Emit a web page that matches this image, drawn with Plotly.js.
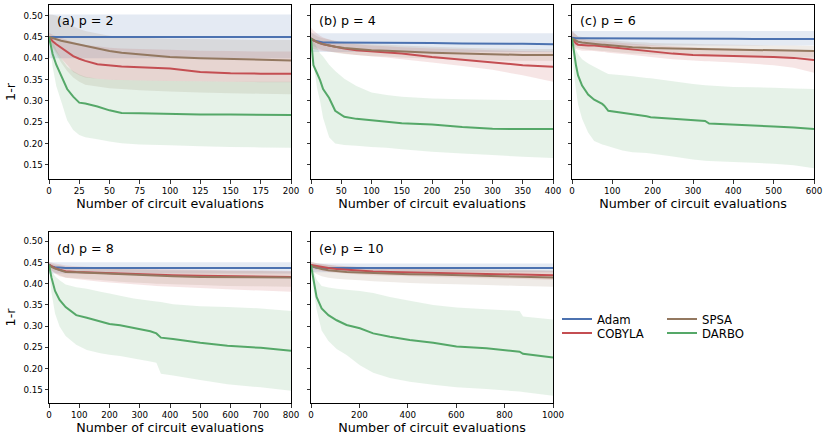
<!DOCTYPE html>
<html>
<head>
<meta charset="utf-8">
<script src="https://cdn.plot.ly/plotly-3.0.1.min.js"></script>
<style>html,body{margin:0;padding:0;background:#fff;}#chart{width:830px;height:442px;}</style>
</head>
<body>
<div id="chart"></div>
<script>
// ---------- data ----------
const seriesNames = ['Adam', 'COBYLA', 'SPSA', 'DARBO'];
const panelLabels = ['(a) p = 2', '(b) p = 4', '(c) p = 6', '(d) p = 8', '(e) p = 10'];
const xMax = [200, 400, 600, 800, 1000];
const xDtick = [25, 50, 100, 100, 200];

// (a) p = 2
const xA = [0,3,6,10,15,20,25,30,40,50,60,75,100,125,150,175,200];
const adamA   = [0.450,0.450,0.450,0.450,0.450,0.450,0.450,0.450,0.450,0.450,0.450,0.450,0.450,0.450,0.450,0.450,0.450];
const adamHiA = [0.503,0.503,0.503,0.503,0.503,0.503,0.503,0.503,0.503,0.503,0.503,0.503,0.503,0.503,0.503,0.503,0.503];
const adamLoA = [0.400,0.400,0.400,0.400,0.400,0.400,0.400,0.400,0.400,0.400,0.400,0.400,0.400,0.400,0.400,0.400,0.400];
const cobA    = [0.450,0.440,0.433,0.425,0.414,0.405,0.399,0.394,0.386,0.383,0.381,0.379,0.376,0.368,0.365,0.364,0.364];
const cobHiA  = [0.460,0.455,0.452,0.448,0.443,0.438,0.434,0.431,0.428,0.425,0.423,0.422,0.420,0.418,0.417,0.416,0.416];
const cobLoA  = [0.440,0.428,0.415,0.400,0.385,0.368,0.360,0.355,0.352,0.350,0.349,0.348,0.347,0.346,0.345,0.344,0.344];
const spsaA   = [0.450,0.447,0.444,0.441,0.438,0.435,0.432,0.428,0.423,0.417,0.413,0.409,0.403,0.400,0.398,0.396,0.395];
const spsaHiA = [0.503,0.502,0.500,0.493,0.483,0.475,0.469,0.464,0.458,0.453,0.450,0.448,0.446,0.445,0.444,0.443,0.443];
const spsaLoA = [0.438,0.425,0.410,0.390,0.370,0.355,0.345,0.338,0.334,0.330,0.328,0.325,0.322,0.320,0.318,0.317,0.316];
const darA    = [0.450,0.410,0.385,0.360,0.328,0.310,0.296,0.294,0.287,0.278,0.272,0.271,0.269,0.268,0.268,0.267,0.267];
const darHiA  = [0.450,0.440,0.420,0.400,0.380,0.370,0.362,0.357,0.352,0.350,0.349,0.348,0.347,0.346,0.345,0.345,0.345];
const darLoA  = [0.450,0.380,0.335,0.300,0.255,0.232,0.220,0.215,0.210,0.205,0.201,0.198,0.196,0.194,0.192,0.191,0.190];

// (b) p = 4
const xB = [0,4,10,15,20,30,40,55,75,100,125,150,200,250,300,350,400];
const adamB   = [0.446,0.442,0.440,0.438,0.437,0.437,0.437,0.437,0.437,0.437,0.437,0.436,0.436,0.435,0.435,0.434,0.433];
const adamHiB = [0.459,0.459,0.459,0.459,0.459,0.459,0.459,0.459,0.459,0.459,0.459,0.459,0.459,0.459,0.459,0.459,0.459];
const adamLoB = [0.415,0.415,0.415,0.415,0.415,0.415,0.415,0.415,0.415,0.415,0.415,0.415,0.415,0.415,0.415,0.415,0.415];
const cobB    = [0.447,0.442,0.438,0.435,0.433,0.430,0.427,0.423,0.419,0.416,0.414,0.411,0.403,0.397,0.390,0.384,0.380];
const cobHiB  = [0.472,0.465,0.458,0.453,0.449,0.444,0.440,0.436,0.433,0.430,0.428,0.426,0.423,0.421,0.419,0.417,0.416];
const cobLoB  = [0.425,0.422,0.420,0.418,0.417,0.416,0.414,0.411,0.408,0.405,0.402,0.398,0.390,0.382,0.373,0.360,0.345];
const spsaB   = [0.447,0.443,0.438,0.435,0.433,0.430,0.427,0.424,0.422,0.419,0.418,0.416,0.413,0.411,0.409,0.408,0.408];
const spsaHiB = [0.462,0.457,0.452,0.449,0.447,0.444,0.441,0.438,0.436,0.433,0.432,0.430,0.427,0.425,0.423,0.422,0.422];
const spsaLoB = [0.432,0.428,0.424,0.421,0.419,0.416,0.413,0.410,0.408,0.405,0.404,0.402,0.399,0.397,0.395,0.394,0.394];
const darB    = [0.447,0.384,0.365,0.349,0.328,0.307,0.277,0.263,0.258,0.254,0.251,0.248,0.245,0.239,0.235,0.234,0.234];
const darHiB  = [0.450,0.440,0.425,0.412,0.404,0.385,0.370,0.352,0.335,0.320,0.314,0.310,0.306,0.304,0.303,0.302,0.302];
const darLoB  = [0.440,0.390,0.330,0.300,0.260,0.215,0.200,0.197,0.195,0.192,0.190,0.187,0.181,0.177,0.173,0.169,0.166];

// (c) p = 6
const xC = [0,5,10,15,25,40,55,75,80,90,125,150,185,195,250,300,330,340,400,450,500,550,600];
const adamC   = [0.448,0.447,0.447,0.447,0.447,0.447,0.447,0.447,0.447,0.447,0.447,0.447,0.446,0.446,0.446,0.446,0.446,0.446,0.446,0.445,0.445,0.445,0.445];
const adamHiC = [0.464,0.464,0.464,0.464,0.464,0.464,0.464,0.464,0.464,0.464,0.464,0.464,0.464,0.464,0.464,0.464,0.464,0.464,0.464,0.464,0.464,0.464,0.464];
const adamLoC = [0.430,0.430,0.430,0.430,0.430,0.430,0.430,0.430,0.430,0.430,0.430,0.430,0.430,0.430,0.430,0.430,0.430,0.430,0.430,0.430,0.430,0.430,0.430];
const cobC    = [0.447,0.440,0.435,0.432,0.431,0.430,0.430,0.428,0.428,0.427,0.423,0.420,0.417,0.416,0.411,0.408,0.407,0.406,0.405,0.404,0.403,0.401,0.396];
const cobHiC  = [0.466,0.460,0.455,0.450,0.446,0.443,0.442,0.440,0.440,0.439,0.436,0.434,0.432,0.431,0.428,0.426,0.425,0.424,0.423,0.422,0.421,0.420,0.419];
const cobLoC  = [0.430,0.425,0.422,0.420,0.418,0.418,0.417,0.415,0.415,0.413,0.410,0.408,0.404,0.403,0.398,0.395,0.393,0.393,0.390,0.387,0.384,0.378,0.366];
const spsaC   = [0.447,0.444,0.441,0.439,0.437,0.435,0.434,0.432,0.432,0.431,0.428,0.426,0.425,0.424,0.423,0.422,0.421,0.421,0.4195,0.419,0.418,0.4175,0.417];
const spsaHiC = [0.462,0.458,0.455,0.452,0.450,0.448,0.446,0.444,0.444,0.443,0.440,0.438,0.437,0.436,0.435,0.434,0.433,0.433,0.432,0.431,0.430,0.430,0.429];
const spsaLoC = [0.432,0.429,0.426,0.424,0.422,0.420,0.419,0.417,0.417,0.416,0.413,0.411,0.410,0.409,0.408,0.407,0.406,0.406,0.405,0.404,0.403,0.402,0.402];
const darC    = [0.447,0.410,0.383,0.360,0.336,0.315,0.303,0.293,0.289,0.277,0.273,0.269,0.264,0.262,0.258,0.254,0.253,0.247,0.245,0.242,0.240,0.238,0.234];
const darHiC  = [0.450,0.440,0.420,0.410,0.398,0.388,0.380,0.370,0.368,0.363,0.360,0.358,0.354,0.353,0.346,0.340,0.337,0.336,0.333,0.332,0.331,0.329,0.328];
const darLoC  = [0.440,0.360,0.325,0.292,0.258,0.226,0.206,0.198,0.197,0.194,0.184,0.180,0.178,0.177,0.170,0.163,0.160,0.159,0.157,0.155,0.153,0.149,0.142];

// (d) p = 8
const xD = [0,8,20,35,55,90,125,170,200,235,280,335,355,370,410,500,590,700,800];
const adamD   = [0.445,0.441,0.439,0.438,0.437,0.437,0.437,0.437,0.437,0.437,0.437,0.437,0.437,0.437,0.437,0.437,0.437,0.437,0.437];
const adamHiD = [0.451,0.451,0.451,0.451,0.451,0.451,0.451,0.451,0.451,0.451,0.451,0.451,0.451,0.451,0.451,0.451,0.451,0.451,0.451];
const adamLoD = [0.424,0.424,0.424,0.424,0.424,0.424,0.424,0.424,0.424,0.424,0.424,0.424,0.424,0.424,0.424,0.424,0.424,0.424,0.424];
const cobD    = [0.445,0.441,0.437,0.433,0.4295,0.428,0.427,0.4256,0.425,0.424,0.4225,0.421,0.4205,0.420,0.420,0.4186,0.418,0.417,0.416];
const cobHiD  = [0.452,0.450,0.448,0.446,0.443,0.441,0.440,0.439,0.438,0.437,0.436,0.435,0.435,0.435,0.434,0.433,0.432,0.431,0.430];
const cobLoD  = [0.436,0.430,0.424,0.418,0.414,0.411,0.408,0.405,0.403,0.401,0.399,0.396,0.395,0.394,0.393,0.390,0.387,0.384,0.381];
const spsaD   = [0.445,0.440,0.436,0.432,0.428,0.427,0.426,0.424,0.423,0.422,0.420,0.419,0.4185,0.418,0.4175,0.4162,0.4155,0.415,0.4147];
const spsaHiD = [0.450,0.447,0.445,0.443,0.440,0.439,0.438,0.437,0.436,0.435,0.434,0.433,0.433,0.432,0.432,0.431,0.430,0.430,0.429];
const spsaLoD = [0.438,0.432,0.426,0.420,0.415,0.413,0.411,0.409,0.407,0.405,0.403,0.401,0.400,0.400,0.399,0.397,0.395,0.394,0.393];
const darD    = [0.445,0.415,0.383,0.362,0.345,0.326,0.320,0.310,0.305,0.302,0.295,0.288,0.283,0.273,0.270,0.261,0.254,0.249,0.242];
const darHiD  = [0.447,0.430,0.418,0.408,0.398,0.392,0.388,0.381,0.377,0.372,0.365,0.360,0.358,0.357,0.352,0.347,0.345,0.342,0.336];
const darLoD  = [0.440,0.380,0.330,0.299,0.277,0.256,0.244,0.236,0.233,0.230,0.224,0.217,0.214,0.188,0.184,0.173,0.163,0.156,0.148];

// (e) p = 10
const xE = [0,10,23,44,72,106,147,202,257,326,408,505,601,725,862,876,1000];
const adamE   = [0.444,0.440,0.438,0.437,0.437,0.437,0.437,0.437,0.437,0.437,0.437,0.437,0.437,0.437,0.437,0.437,0.437];
const adamHiE = [0.448,0.448,0.448,0.448,0.448,0.448,0.448,0.448,0.448,0.448,0.448,0.448,0.448,0.448,0.448,0.448,0.448];
const adamLoE = [0.427,0.427,0.427,0.427,0.427,0.427,0.427,0.427,0.427,0.427,0.427,0.427,0.427,0.427,0.427,0.427,0.427];
const cobE    = [0.444,0.443,0.441,0.439,0.437,0.435,0.433,0.431,0.429,0.428,0.427,0.4256,0.424,0.423,0.4215,0.4212,0.420];
const cobHiE  = [0.452,0.451,0.449,0.447,0.445,0.443,0.441,0.439,0.437,0.436,0.435,0.434,0.433,0.432,0.431,0.431,0.430];
const cobLoE  = [0.436,0.434,0.432,0.430,0.428,0.426,0.424,0.422,0.420,0.419,0.418,0.416,0.415,0.413,0.411,0.411,0.409];
const spsaE   = [0.442,0.440,0.438,0.435,0.432,0.430,0.428,0.4265,0.425,0.4235,0.4225,0.4217,0.420,0.418,0.416,0.416,0.4147];
const spsaHiE = [0.452,0.450,0.448,0.446,0.444,0.442,0.441,0.440,0.439,0.438,0.437,0.436,0.435,0.434,0.433,0.433,0.432];
const spsaLoE = [0.432,0.428,0.423,0.418,0.414,0.412,0.410,0.408,0.406,0.404,0.402,0.400,0.399,0.397,0.395,0.395,0.393];
const darE    = [0.444,0.408,0.369,0.342,0.326,0.314,0.303,0.295,0.283,0.275,0.2675,0.261,0.252,0.248,0.240,0.235,0.226];
const darHiE  = [0.447,0.432,0.410,0.395,0.391,0.388,0.386,0.383,0.378,0.369,0.360,0.350,0.344,0.340,0.336,0.323,0.316];
const darLoE  = [0.440,0.390,0.340,0.290,0.265,0.246,0.232,0.208,0.190,0.178,0.169,0.162,0.156,0.152,0.146,0.145,0.136];

// ---------- styling ----------
const FONT = 'DejaVu Sans';
const COLORS = {Adam:'#4C72B0', COBYLA:'#C44E52', SPSA:'#937860', DARBO:'#55A868'};
const LEGEND_KEY = {Adam:'legend', COBYLA:'legend2', SPSA:'legend3', DARBO:'legend4'};
function rgba(hex, a){
  const n = parseInt(hex.slice(1), 16);
  return 'rgba(' + ((n>>16)&255) + ',' + ((n>>8)&255) + ',' + (n&255) + ',' + a + ')';
}

const panels = [
  {xs:xA, s:{Adam:[adamA,adamLoA,adamHiA], COBYLA:[cobA,cobLoA,cobHiA], SPSA:[spsaA,spsaLoA,spsaHiA], DARBO:[darA,darLoA,darHiA]}},
  {xs:xB, s:{Adam:[adamB,adamLoB,adamHiB], COBYLA:[cobB,cobLoB,cobHiB], SPSA:[spsaB,spsaLoB,spsaHiB], DARBO:[darB,darLoB,darHiB]}},
  {xs:xC, s:{Adam:[adamC,adamLoC,adamHiC], COBYLA:[cobC,cobLoC,cobHiC], SPSA:[spsaC,spsaLoC,spsaHiC], DARBO:[darC,darLoC,darHiC]}},
  {xs:xD, s:{Adam:[adamD,adamLoD,adamHiD], COBYLA:[cobD,cobLoD,cobHiD], SPSA:[spsaD,spsaLoD,spsaHiD], DARBO:[darD,darLoD,darHiD]}},
  {xs:xE, s:{Adam:[adamE,adamLoE,adamHiE], COBYLA:[cobE,cobLoE,cobHiE], SPSA:[spsaE,spsaLoE,spsaHiE], DARBO:[darE,darLoE,darHiE]}}
];

const W = 830, H = 442;
// pixel boxes of the five axes: [left, right, top, bottom]
const boxes = [[49,291,5,179],[311,553,5,179],[572,814,5,179],[49,291,232,403],[311,553,232,403]];
const yRanges = [[0.117,0.525],[0.117,0.525],[0.117,0.525],[0.119,0.522],[0.119,0.522]];

const traces = [];
panels.forEach((p, i) => {
  const xa = 'x' + (i === 0 ? '' : i+1), ya = 'y' + (i === 0 ? '' : i+1);
  const rev = p.xs.slice().reverse();
  seriesNames.forEach(name => {
    const [m, lo, hi] = p.s[name];
    traces.push({type:'scatter', mode:'none', x:p.xs.concat(rev), y:hi.concat(lo.slice().reverse()),
      fill:'toself', fillcolor:rgba(COLORS[name], 0.15), xaxis:xa, yaxis:ya, showlegend:false, hoverinfo:'skip'});
  });
  seriesNames.forEach(name => {
    const [m] = p.s[name];
    traces.push({type:'scatter', mode:'lines', name:name, x:p.xs, y:m, line:{color:COLORS[name], width:2},
      xaxis:xa, yaxis:ya, showlegend:(i === 0), legend:LEGEND_KEY[name]});
  });
});

const layout = {
  width:W, height:H, margin:{l:0,r:0,t:0,b:0}, paper_bgcolor:'#fff', plot_bgcolor:'#fff',
  font:{family:FONT, color:'#000'}, annotations:[], showlegend:true
};
boxes.forEach((b, i) => {
  const k = i === 0 ? '' : String(i+1);
  const common = {showline:true, mirror:true, linecolor:'#000', linewidth:1, ticks:'outside', ticklen:3.5,
    tickwidth:0.8, tickcolor:'#000', showgrid:false, zeroline:false, tickfont:{family:FONT, size:8.7, color:'#000'}};
  layout['xaxis'+k] = Object.assign({}, common, {
    domain:[b[0]/W, b[1]/W], anchor:'y'+k, range:[0, xMax[i]], tick0:0, dtick:xDtick[i],
    title:{text:'Number of circuit evaluations', font:{family:FONT, size:12.7, color:'#000'}, standoff:4}
  });
  layout['yaxis'+k] = Object.assign({}, common, {
    domain:[1-b[3]/H, 1-b[2]/H], anchor:'x'+k, range:yRanges[i], tick0:0.15, dtick:0.05, tickformat:'.2f',
    showticklabels:(i === 0 || i === 3),
    title:(i === 0 || i === 3) ? {text:'1-r', font:{family:FONT, size:12.7, color:'#000'}, standoff:4} : {text:''}
  });
  layout.annotations.push({text:panelLabels[i], xref:'x'+k+' domain', yref:'y'+k+' domain',
    x:6/(b[1]-b[0]), y:1-16/(b[3]-b[2]), xanchor:'left', yanchor:'middle', showarrow:false,
    font:{family:FONT, size:12.7, color:'#000'}});
});
// four single-entry legends laid out as 2 columns
const legPos = {legend:[557,319], legend2:[557,333], legend3:[662,319], legend4:[662,333]};
Object.keys(legPos).forEach(k => {
  layout[k] = {x:legPos[k][0]/W, y:1-legPos[k][1]/H, xanchor:'left', yanchor:'middle', bgcolor:'rgba(0,0,0,0)',
    borderwidth:0, font:{family:FONT, size:11.7, color:'#000'}};
});

Plotly.newPlot('chart', traces, layout, {staticPlot:true, displayModeBar:false});
</script>
</body>
</html>
